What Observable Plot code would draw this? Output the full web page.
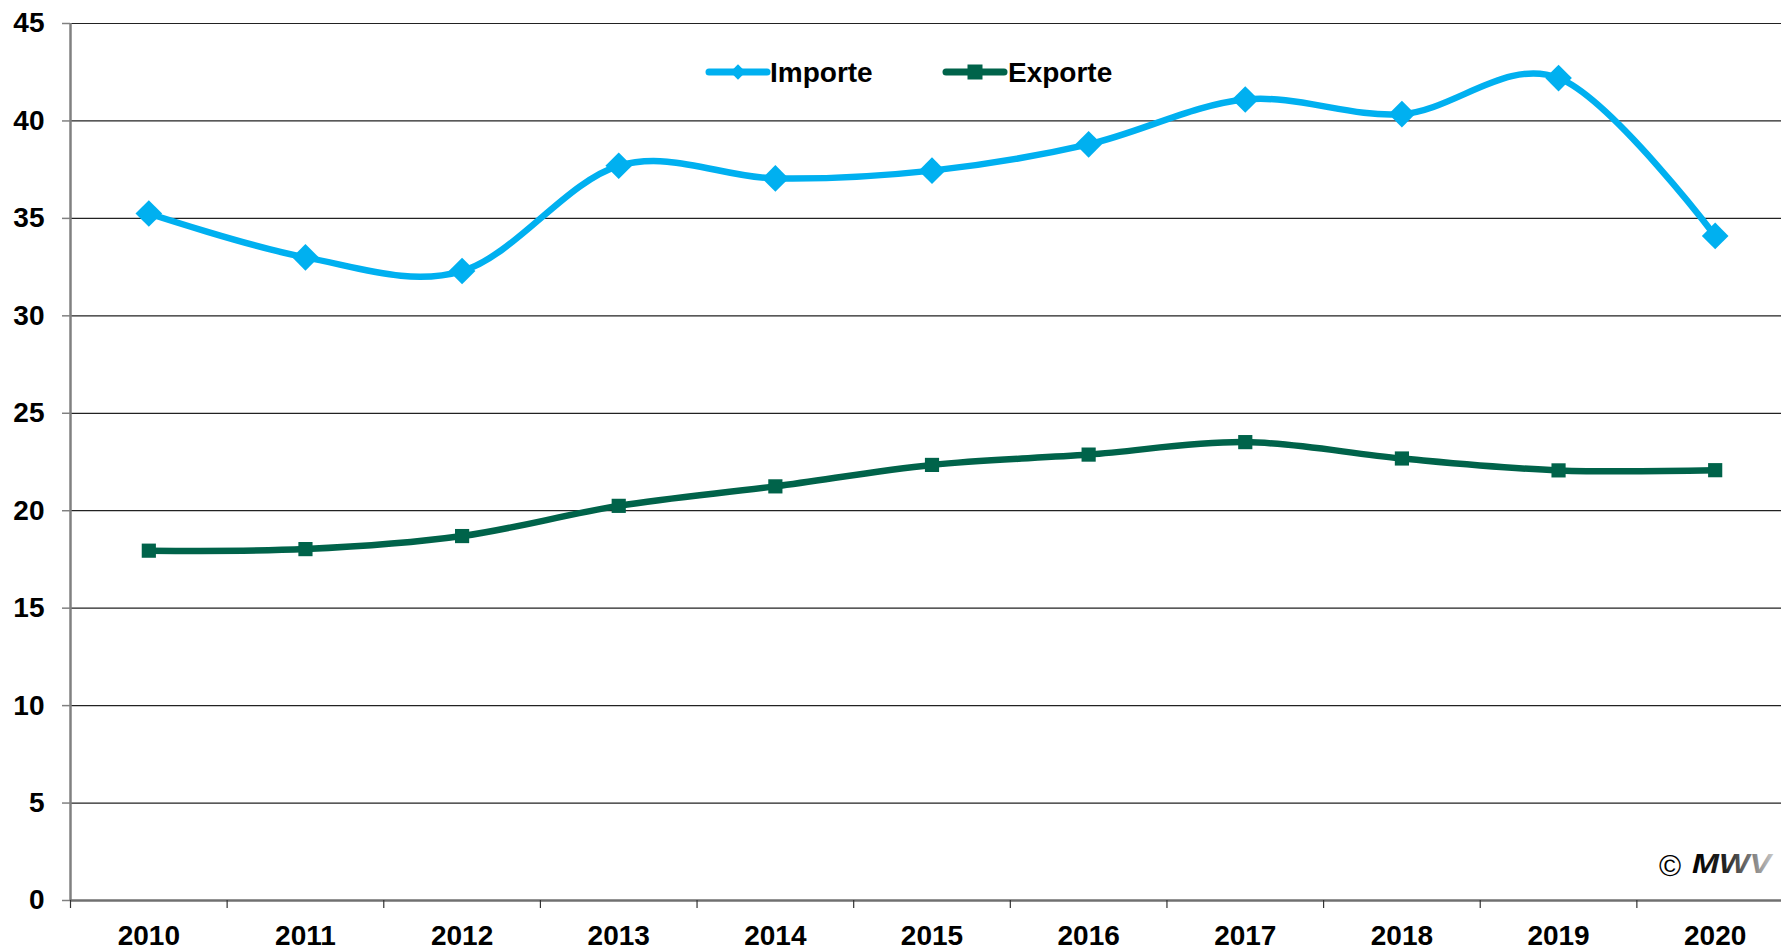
<!DOCTYPE html>
<html>
<head>
<meta charset="utf-8">
<script src="https://cdn.jsdelivr.net/npm/d3@7"></script>
<script src="https://cdn.jsdelivr.net/npm/@observablehq/plot@0.6"></script>
<style>
  html, body { margin: 0; padding: 0; background: #fff; overflow: hidden; }
  #wrap { position: relative; width: 1781px; height: 950px; overflow: hidden; }
  #chart { width: 1793px; }
  #chart svg { max-width: none !important; display: block; }
  #overlay { position: absolute; left: 0; top: 0; pointer-events: none; }
</style>
</head>
<body>
<div id="wrap"><div id="chart"></div></div>
<script>
// ---- data ----
const years = [2010, 2011, 2012, 2013, 2014, 2015, 2016, 2017, 2018, 2019, 2020];
const importe = [35.25, 33.0, 32.3, 37.7, 37.05, 37.45, 38.8, 41.1, 40.35, 42.2, 34.1];
const exporte = [17.95, 18.03, 18.7, 20.25, 21.25, 22.35, 22.88, 23.52, 22.68, 22.07, 22.08];
const yTicks = [0, 5, 10, 15, 20, 25, 30, 35, 40, 45];
const seriesNames = ["Importe", "Exporte"];
const seriesColors = ["#00B0F0", "#00634A"];
const copyrightText = "©";
const logoText = "MWV";

// ---- build table ----
const rows = [];
years.forEach((yr, i) => {
  rows.push({year: yr, value: importe[i], series: seriesNames[0]});
  rows.push({year: yr, value: exporte[i], series: seriesNames[1]});
});
const imp = rows.filter(d => d.series === seriesNames[0]);
const exp = rows.filter(d => d.series === seriesNames[1]);
const boundaries = [...years.map(y => y - 0.5), years[years.length - 1] + 0.5];

const chart = Plot.plot({
  width: 1793,
  height: 950,
  marginLeft: 70,
  marginRight: 0,
  marginTop: 23,
  marginBottom: 50,
  style: {fontFamily: "'Liberation Sans', Arial, sans-serif", fontSize: "28px", fontWeight: "bold", color: "#000", background: "#fff", maxWidth: "none"},
  x: {type: "linear", domain: [boundaries[0], boundaries[boundaries.length - 1]]},
  y: {domain: [0, 45]},
  marks: [
    Plot.gridY(yTicks, {stroke: "#222", strokeOpacity: 1, strokeWidth: 1.2}),
    Plot.ruleX([boundaries[0]], {stroke: "#808080", strokeWidth: 2.5}),
    Plot.ruleY([0], {stroke: "#707070", strokeWidth: 2.5}),
    Plot.axisY(yTicks, {tickSize: 8, tickPadding: 18, stroke: "#808080", strokeWidth: 1.5, fontSize: 28, fontWeight: "bold", tickFormat: d => String(d), label: null}),
    Plot.axisX(boundaries, {tickSize: 8, stroke: "#333", strokeWidth: 1.2, tickFormat: () => "", label: null}),
    Plot.axisX(years, {tickSize: 0, tickPadding: 25, fontSize: 28, fontWeight: "bold", tickFormat: d => String(d), label: null}),
    Plot.line(imp, {x: "year", y: "value", stroke: seriesColors[0], strokeWidth: 6.5, curve: "cardinal", tension: 0}),
    Plot.line(exp, {x: "year", y: "value", stroke: seriesColors[1], strokeWidth: 6.5, curve: "cardinal", tension: 0}),
    Plot.dot(imp, {x: "year", y: "value", symbol: "diamond2", r: 12, fill: seriesColors[0], stroke: "none"}),
    Plot.dot(exp, {x: "year", y: "value", symbol: "square", r: 8, fill: seriesColors[1], stroke: "none"})
  ]
});
document.getElementById("chart").appendChild(chart);

// ---- legend + copyright overlay ----
const svg = d3.select("#wrap").append("svg")
  .attr("id", "overlay").attr("width", 1781).attr("height", 950);
const font = "'Liberation Sans', Arial, sans-serif";
const legendItems = [
  {name: seriesNames[0], color: seriesColors[0], x0: 709, x1: 767, tx: 770, sym: d3.symbolDiamond2, size: 150},
  {name: seriesNames[1], color: seriesColors[1], x0: 946, x1: 1004, tx: 1008, sym: d3.symbolSquare, size: 225}
];
const ly = 72;
legendItems.forEach(it => {
  svg.append("line").attr("x1", it.x0).attr("x2", it.x1).attr("y1", ly).attr("y2", ly)
    .attr("stroke", it.color).attr("stroke-width", 7).attr("stroke-linecap", "round");
  svg.append("path").attr("d", d3.symbol(it.sym, it.size)())
    .attr("transform", `translate(${(it.x0 + it.x1) / 2},${ly})`).attr("fill", it.color);
  svg.append("text").attr("x", it.tx).attr("y", ly + 10).text(it.name)
    .attr("font-family", font).attr("font-weight", "bold").attr("font-size", 28).attr("fill", "#000");
});

const defs = svg.append("defs");
const grad = defs.append("linearGradient").attr("id", "mwvgrad").attr("x1", "0").attr("x2", "1").attr("y1", "0").attr("y2", "0");
grad.append("stop").attr("offset", "0%").attr("stop-color", "#000");
grad.append("stop").attr("offset", "40%").attr("stop-color", "#222");
grad.append("stop").attr("offset", "100%").attr("stop-color", "#c8c8c8");
svg.append("text").attr("x", 1659).attr("y", 876).text(copyrightText)
  .attr("font-family", font).attr("font-size", 30).attr("fill", "#000");
svg.append("text").attr("x", 1692).attr("y", 873).text(logoText)
  .attr("font-family", font).attr("font-weight", "bold").attr("font-style", "italic")
  .attr("font-size", 28).attr("textLength", 79).attr("lengthAdjust", "spacingAndGlyphs")
  .attr("fill", "url(#mwvgrad)");
</script>
</body>
</html>
